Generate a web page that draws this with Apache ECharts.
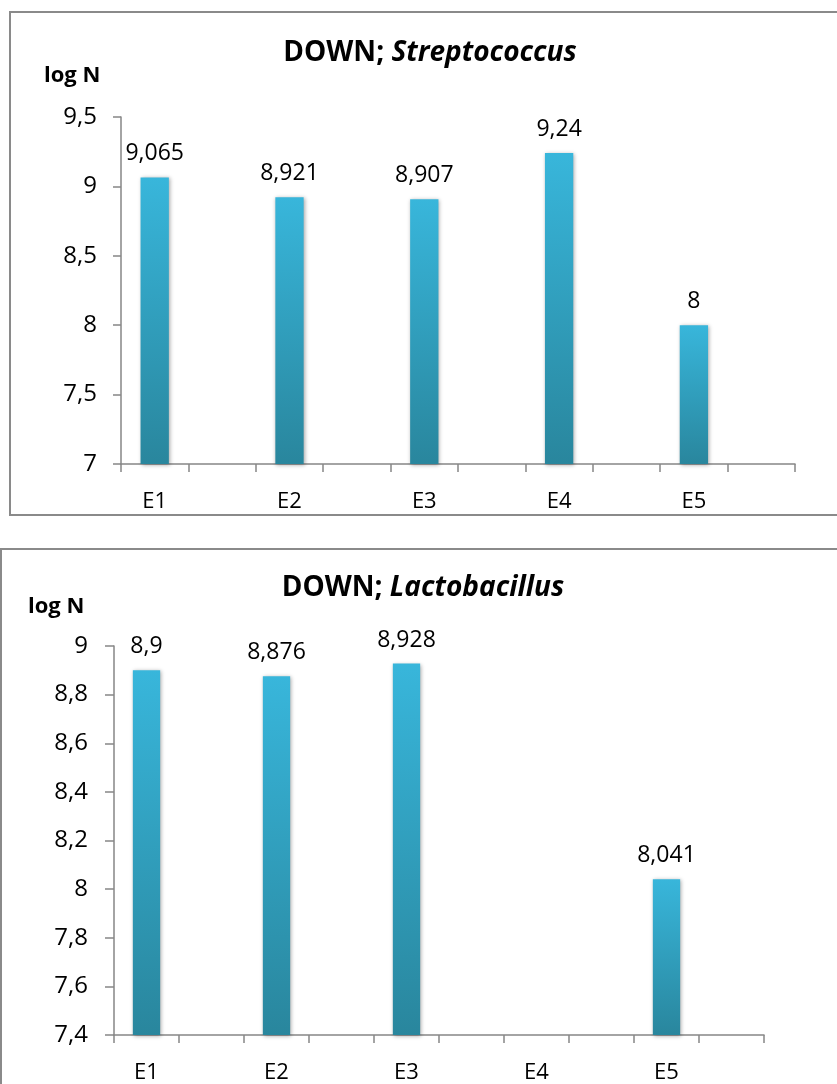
<!DOCTYPE html>
<html>
<head>
<meta charset="utf-8">
<script src="https://cdn.jsdelivr.net/npm/echarts@6/dist/echarts.min.js"></script>
<style>
  html, body { margin: 0; padding: 0; background: #fff; }
  #chart { width: 837px; height: 1084px; }
</style>
</head>
<body>
<div id="chart"></div>
<script>
// Sample groups and measured values (log N)
const categories = ['E1', 'E2', 'E3', 'E4', 'E5'];
const streptococcus = [9.065, 8.921, 8.907, 9.24, 8];
const lactobacillus = [8.9, 8.876, 8.928, null, 8.041];

// Value-axis ticks of each panel
const streptoTicks = [7, 7.5, 8, 8.5, 9, 9.5];
const lactoTicks = [7.4, 7.6, 7.8, 8, 8.2, 8.4, 8.6, 8.8, 9];

const FONT = '"Open Sans", "Liberation Sans", sans-serif';
const AXIS_GREY = '#868686';

// Every group sits in its own slot followed by an empty spacer slot
function slots(names) {
  const out = [];
  names.forEach(function (n, i) { out.push(n); out.push('gap' + i); });
  return out;
}
function slotValues(vals) {
  const out = [];
  vals.forEach(function (v) { out.push(v == null ? '-' : v); out.push('-'); });
  return out;
}
function comma(v) {
  return String(Math.round(v * 1000) / 1000).replace('.', ',');
}

function xAxisFor(gridIndex, margin) {
  return {
    type: 'category',
    gridIndex: gridIndex,
    data: slots(categories),
    axisLine: { lineStyle: { color: AXIS_GREY, width: 1.5 } },
    axisTick: { show: true, interval: 0, length: 8, lineStyle: { color: AXIS_GREY, width: 1.5 } },
    axisLabel: {
      interval: 0, margin: margin, color: '#000', fontFamily: FONT, fontSize: 22,
      formatter: function (v) { return v.indexOf('gap') === 0 ? '' : v; }
    },
    splitLine: { show: false }
  };
}

function yAxisFor(gridIndex, ticks, margin, tickLen) {
  return {
    type: 'value',
    gridIndex: gridIndex,
    min: ticks[0],
    max: ticks[ticks.length - 1],
    interval: Math.round((ticks[1] - ticks[0]) * 10) / 10,
    axisLine: { show: true, lineStyle: { color: AXIS_GREY, width: 1.5 } },
    axisTick: { show: true, length: tickLen, lineStyle: { color: AXIS_GREY, width: 1.5 } },
    axisLabel: {
      margin: margin, color: '#000', fontFamily: FONT, fontSize: 24,
      formatter: function (v) { return comma(v); }
    },
    splitLine: { show: false }
  };
}

const barStyle = {
  color: new echarts.graphic.LinearGradient(0, 0, 0, 1, [
    { offset: 0, color: '#38b6db' },
    { offset: 1, color: '#29869d' }
  ]),
  shadowBlur: 4,
  shadowColor: 'rgba(0,0,0,0.35)',
  shadowOffsetX: 1,
  shadowOffsetY: 1
};

function barSeries(idx, vals, dist) {
  return {
    type: 'bar',
    xAxisIndex: idx,
    yAxisIndex: idx,
    data: slotValues(vals),
    barWidth: '42%',
    itemStyle: barStyle,
    label: {
      show: true, position: 'top', distance: dist,
      color: '#000', fontFamily: FONT, fontSize: 23,
      formatter: function (p) { return comma(p.value); }
    },
    emphasis: { disabled: true },
    animation: false
  };
}

function titleText(x, y, genus) {
  return {
    type: 'text', x: x, y: y,
    style: {
      text: '{b|DOWN; }{i|' + genus + '}',
      align: 'center',
      rich: {
        b: { fontFamily: FONT, fontWeight: 'bold', fontSize: 28, fill: '#000' },
        i: { fontFamily: FONT, fontWeight: 'bold', fontStyle: 'italic', fontSize: 28, fill: '#000' }
      }
    }
  };
}

function unitText(x, y) {
  return {
    type: 'text', x: x, y: y,
    style: { text: 'log N', fontFamily: FONT, fontWeight: 'bold', fontSize: 22, fill: '#000' }
  };
}

const chart = echarts.init(document.getElementById('chart'), null, { renderer: 'canvas' });
chart.setOption({
  backgroundColor: '#fff',
  animation: false,
  grid: [
    { left: 121, top: 117, width: 674, height: 347 },
    { left: 114, top: 646, width: 650, height: 389 }
  ],
  xAxis: [xAxisFor(0, 27), xAxisFor(1, 27)],
  yAxis: [yAxisFor(0, streptoTicks, 24, 8), yAxisFor(1, lactoTicks, 26, 9)],
  series: [barSeries(0, streptococcus, 12), barSeries(1, lactobacillus, 12)],
  graphic: [
    { type: 'rect', shape: { x: 10, y: 12, width: 900, height: 503 },
      style: { fill: 'none', stroke: '#8a8a8a', lineWidth: 2 }, silent: true },
    { type: 'rect', shape: { x: 1, y: 549, width: 900, height: 600 },
      style: { fill: 'none', stroke: '#8a8a8a', lineWidth: 2 }, silent: true },
    titleText(430, 39, 'Streptococcus'),
    titleText(423, 574, 'Lactobacillus'),
    unitText(44, 65),
    unitText(28, 596)
  ]
});
</script>
</body>
</html>
